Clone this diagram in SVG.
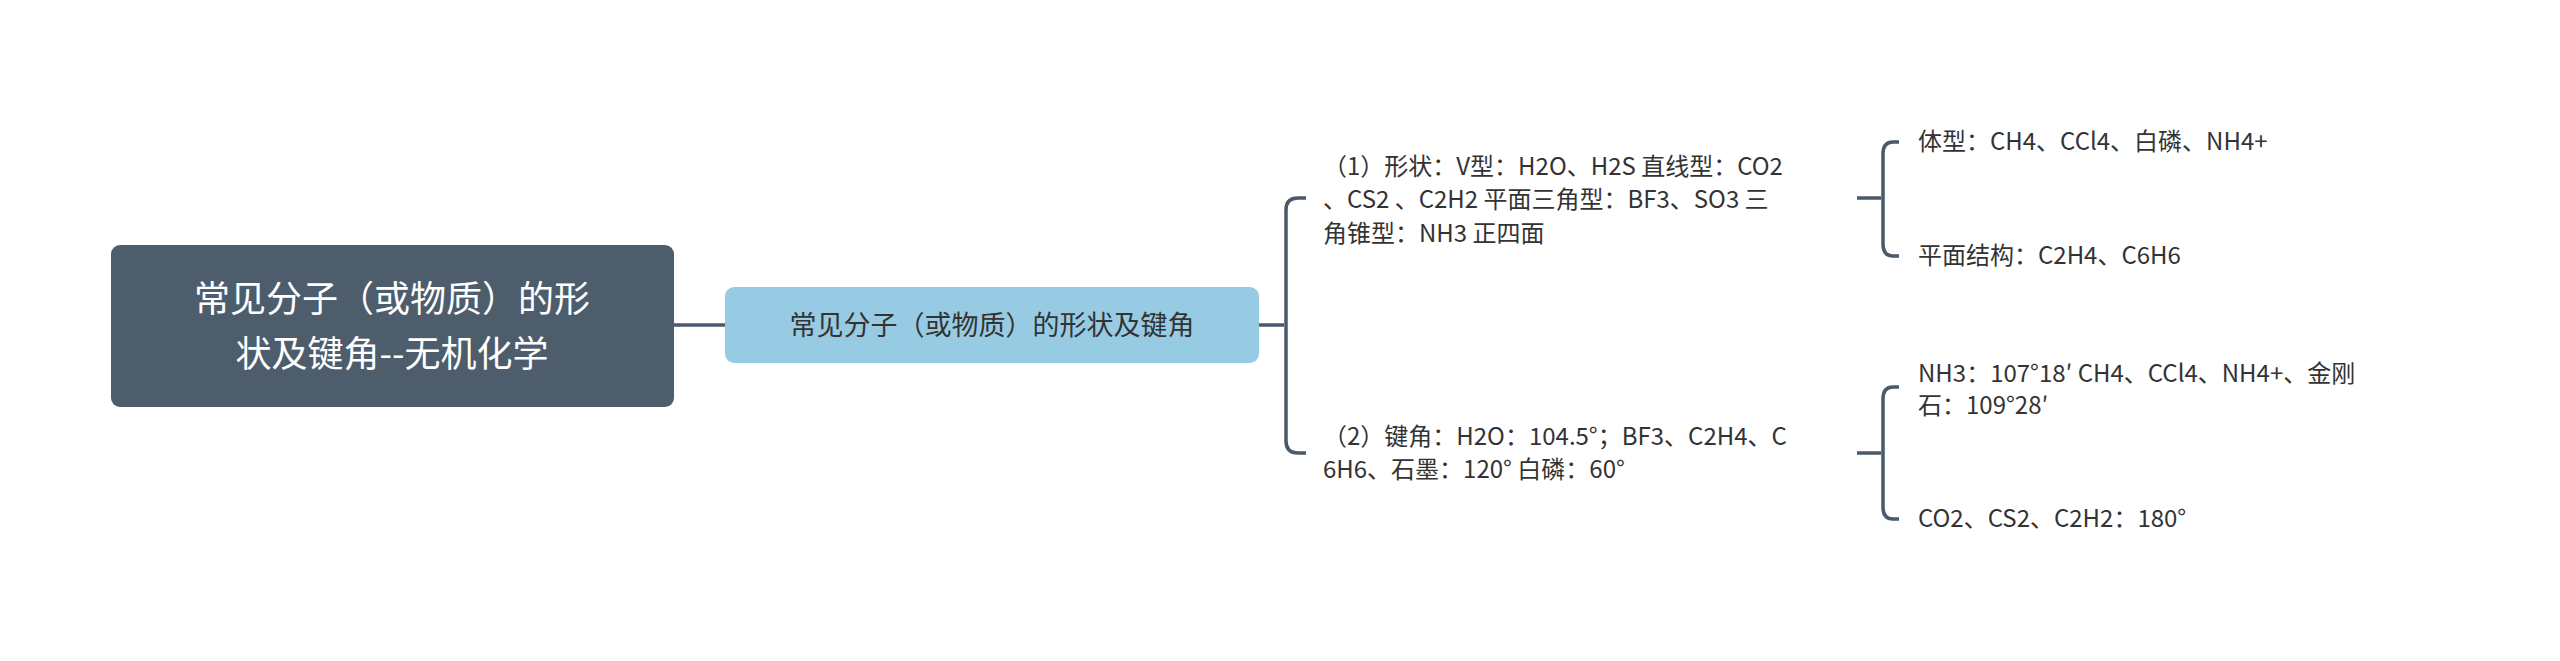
<svg xmlns="http://www.w3.org/2000/svg" width="2560" height="661" viewBox="0 0 2560 661">
<style>
.t{font-family:"Noto Sans CJK SC","Noto Sans",sans-serif;font-size:24px;fill:#333}
.c{fill:none;stroke:#4a5a6b;stroke-width:3.5}
</style>
<rect width="2560" height="661" fill="#fff"/>
<g id="connectors">
<path class="c" d="M674 325H725"/>
<path class="c" d="M1259 325H1284M1306 198H1298Q1286 198 1286 210V441Q1286 453 1298 453H1306"/>
<path class="c" d="M1857 198H1881M1899 142H1893Q1883 142 1883 154V244Q1883 256 1893 256H1899"/>
<path class="c" d="M1857 453H1881M1899 387H1893Q1883 387 1883 399V507Q1883 519 1893 519H1899"/>
</g>
<g id="root">
<rect x="111" y="245" width="563" height="162" rx="9" fill="#4d5d6c"/>
<text font-family="Noto Sans CJK SC,sans-serif" font-size="36" fill="#fff" text-anchor="middle"><tspan x="392" y="312">常见分子（或物质）的形</tspan><tspan x="392" y="367">状及键角--无机化学</tspan></text>
</g>
<g id="main">
<rect x="725" y="287" width="534" height="76" rx="9" fill="#97cbe3"/>
<text font-family="Noto Sans CJK SC,sans-serif" font-size="27" fill="#333" text-anchor="middle" x="992" y="335">常见分子（或物质）的形状及键角</text>
</g>
<g id="b1">
<text class="t"><tspan x="1323" y="175">（1）形状：V型：H2O、H2S 直线型：CO2</tspan><tspan x="1323" y="208">、CS2 、C2H2 平面三角型：BF3、SO3 三</tspan><tspan x="1323" y="242">角锥型：NH3 正四面</tspan></text>
</g>
<g id="b2">
<text class="t"><tspan x="1323" y="445">（2）键角：H2O：104.5°；BF3、C2H4、C</tspan><tspan x="1323" y="478">6H6、石墨：120° 白磷：60°</tspan></text>
</g>
<g id="c1"><text class="t" x="1918" y="150">体型：CH4、CCl4、白磷、NH4+</text></g>
<g id="c2"><text class="t" x="1918" y="264">平面结构：C2H4、C6H6</text></g>
<g id="c3"><text class="t"><tspan x="1918" y="382">NH3：107°18′ CH4、CCl4、NH4+、金刚</tspan><tspan x="1918" y="414">石：109°28′</tspan></text></g>
<g id="c4"><text class="t" x="1918" y="527">CO2、CS2、C2H2：180°</text></g>
</svg>
